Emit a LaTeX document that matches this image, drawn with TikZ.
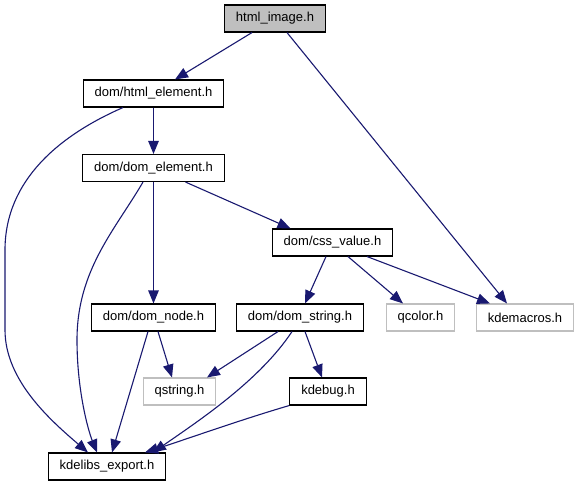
\documentclass[tikz,border=0pt]{standalone}
\usepackage{fontspec}
\setmainfont{Liberation Sans}
\usepackage{tikz}
\usetikzlibrary{arrows.meta, positioning, calc}
\usepackage{xcolor}
\definecolor{edgeblue}{HTML}{191970}
\definecolor{boxgray}{HTML}{BFBFBF}

\begin{document}
\begin{tikzpicture}[
    x=1pt, y=-1pt,
    font=\fontsize{13}{15}\selectfont,
    >={Triangle[length=13pt,width=10.5pt]},
    file/.style={draw=black, line width=1.1pt, minimum height=27pt, inner xsep=11.5pt, inner ysep=0pt},
    sysfile/.style={file, draw=boxgray},
    topfile/.style={file, fill=boxgray},
    dep/.style={->, draw=edgeblue, line width=1.1pt},
]
    \useasboundingbox (0,0) rectangle (579,485);
    % files
    \node[topfile] (image) at (275,18.5) {html\_image.h};
    \node[file] (htmlel) at (153.5,93.5) {dom/html\_element.h};
    \node[file] (domel) at (153.5,168) {dom/dom\_element.h};
    \node[file] (cssval) at (332.5,242.5) {dom/css\_value.h};
    \node[file] (domnode) at (153.5,317.5) {dom/dom\_node.h};
    \node[file] (domstr) at (300,317.5) {dom/dom\_string.h};
    \node[sysfile] (qcolor) at (420.5,317.5) {qcolor.h};
    \node[sysfile] (kdemacros) at (525,317.5) {kdemacros.h};
    \node[sysfile] (qstring) at (179.5,391.5) {qstring.h};
    \node[file] (kdebug) at (328,391.5) {kdebug.h};
    \node[file] (export) at (107,466.5) {kdelibs\_export.h};
    % includes
    \draw[dep] ([xshift=-23pt]image.south) -- ([xshift=21.5pt]htmlel.north);
    \draw[dep] ([xshift=12pt]image.south) -- ([xshift=-18pt]kdemacros.north);
    \draw[dep] (htmlel.south) -- (domel.north);
    \draw[dep] ([xshift=-30.5pt]htmlel.south) .. controls (60,135) and (5,180) .. (5,250)
        -- (5,330) .. controls (5,380) and (50,420) .. ([xshift=-19pt]export.north);
    \draw[dep] (domel.south) -- (domnode.north);
    \draw[dep] ([xshift=-10.5pt]domel.south) .. controls (115,230) and (77,270) .. (77,340)
        .. controls (77,390) and (88,430) .. ([xshift=-10pt]export.north);
    \draw[dep] ([xshift=32pt]domel.south) -- ([xshift=-42pt]cssval.north);
    \draw[dep] ([xshift=-6.5pt]cssval.south) -- ([xshift=5pt]domstr.north);
    \draw[dep] ([xshift=15.5pt]cssval.south) -- ([xshift=-17.5pt]qcolor.north);
    \draw[dep] ([xshift=34.5pt]cssval.south) -- ([xshift=-35pt]kdemacros.north);
    \draw[dep] ([xshift=4.5pt]domnode.south) -- ([xshift=-7.5pt]qstring.north);
    \draw[dep] ([xshift=-5.5pt]domnode.south) -- ([xshift=5pt]export.north);
    \draw[dep] ([xshift=-22pt]domstr.south) -- ([xshift=27.5pt]qstring.north);
    \draw[dep] ([xshift=-8pt]domstr.south) .. controls (260,380) and (200,420) .. ([xshift=46pt]export.north);
    \draw[dep] ([xshift=5pt]domstr.south) -- ([xshift=-6pt]kdebug.north);
    \draw[dep] (kdebug.south west) .. controls (240,420) and (190,438) .. ([xshift=38pt]export.north);
\end{tikzpicture}
\end{document}
